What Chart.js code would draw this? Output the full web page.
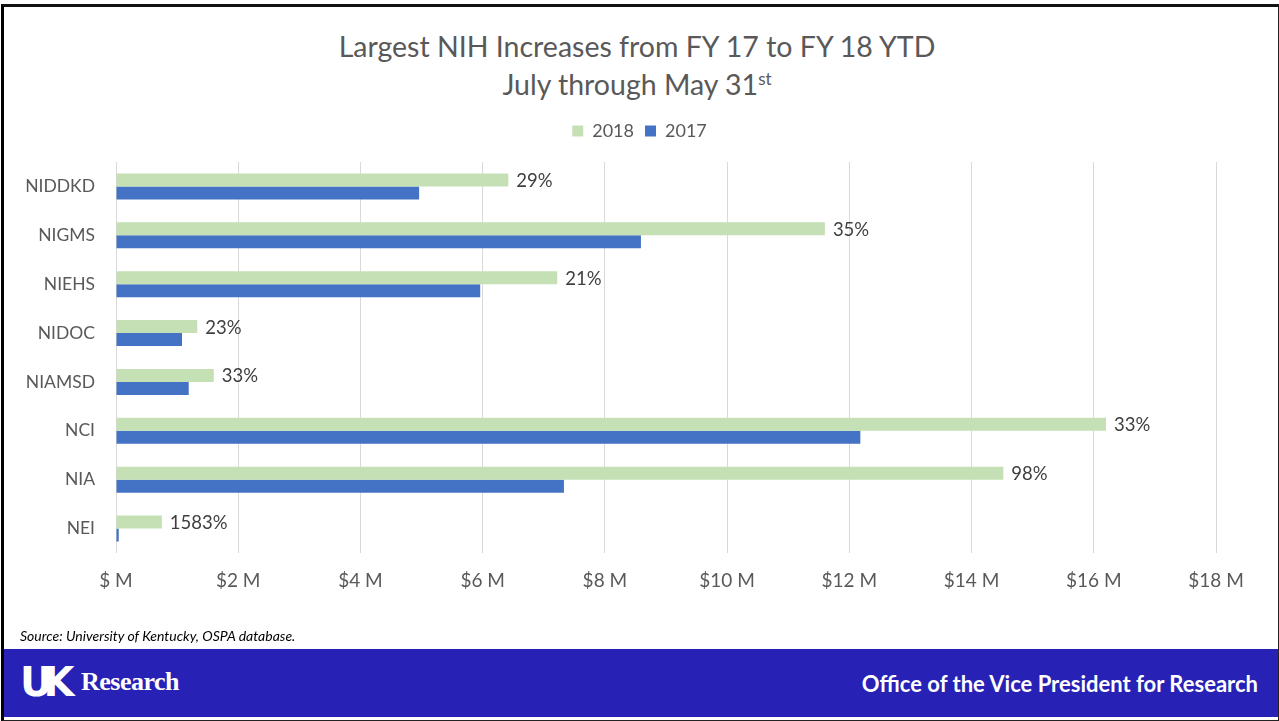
<!DOCTYPE html>
<html>
<head>
<meta charset="utf-8">
<script src="https://cdn.jsdelivr.net/npm/chart.js@4"></script>
<style>
  html, body { margin: 0; padding: 0; background: #fff; }
  body { width: 1279px; height: 721px; position: relative; overflow: hidden; font-family: Lato, "Noto Sans", sans-serif; }
  #frame { position: absolute; left: 1px; top: 4px; width: 1274px; height: 713px; border-left: 3px solid #000; border-top: 3px solid #111; border-right: 1px solid #222; border-bottom: 1px solid #222; }
  #chartWrap { position: absolute; left: 0; top: 0; width: 1279px; height: 721px; }
  #title { position: absolute; left: 0; width: 1274px; top: 27px; text-align: center; color: #595959; font-size: 28.5px; line-height: 38px; }
  #title sup { font-size: 17px; vertical-align: 10px; line-height: 0; }
  #source { position: absolute; left: 20px; top: 627px; font-size: 14px; font-style: italic; color: #000; }
  #footer { position: absolute; left: 4px; top: 649px; width: 1274px; height: 68px; background: #2821B5; color: #fff; }
  #logo { position: absolute; left: 16px; top: 11px; font-family: "DejaVu Sans", sans-serif; font-weight: 900; font-size: 40px; letter-spacing: -9px; line-height: 44px; }
  #logoText { position: absolute; left: 77px; top: 18px; font-family: "Liberation Serif", serif; font-weight: bold; font-size: 26px; letter-spacing: -0.5px; }
  #office { position: absolute; right: 20px; top: 21px; font-weight: bold; font-size: 22px; }
</style>
</head>
<body>
<div id="frame"></div>
<div id="title">Largest NIH Increases from FY 17 to FY 18 YTD<br>July through May 31<sup>st</sup></div>
<div id="chartWrap"><canvas id="nihChart" width="1279" height="721"></canvas></div>
<div id="source">Source: University of Kentucky, OSPA database.</div>
<div id="footer">
  <div id="logo">UK</div>
  <div id="logoText">Research</div>
  <div id="office">Office of the Vice President for Research</div>
</div>
<script>
// institutes, top to bottom
const institutes = ['NIDDKD', 'NIGMS', 'NIEHS', 'NIDOC', 'NIAMSD', 'NCI', 'NIA', 'NEI'];

// funding in $ millions, July through May 31
const fy2018 = [6.42, 11.6, 7.22, 1.33, 1.60, 16.2, 14.52, 0.75];
const fy2017 = [4.96, 8.59, 5.96, 1.08, 1.19, 12.18, 7.33, 0.045];

// increase labels shown at the end of the 2018 bars
const increaseLabels = ['29%', '35%', '21%', '23%', '33%', '33%', '98%', '1583%'];

const xTickLabels = ['$ M', '$2 M', '$4 M', '$6 M', '$8 M', '$10 M', '$12 M', '$14 M', '$16 M', '$18 M'];

const fontFamily = 'Lato, "Noto Sans", sans-serif';

// draws the percentage next to each 2018 bar
const increaseLabelPlugin = {
  id: 'increaseLabels',
  afterDatasetsDraw(chart) {
    const ctx = chart.ctx;
    const meta = chart.getDatasetMeta(0);
    ctx.save();
    ctx.font = '18.5px ' + fontFamily;
    ctx.fillStyle = '#404040';
    ctx.textAlign = 'left';
    ctx.textBaseline = 'middle';
    meta.data.forEach(function(bar, i) {
      ctx.fillText(increaseLabels[i], bar.x + 8, bar.y + 1);
    });
    ctx.restore();
  }
};

// extra room under the legend, and centre it on the whole slide
const legendGapPlugin = {
  id: 'legendGap',
  beforeLayout(chart) {
    const legend = chart.legend;
    if (legend && !legend._gapAdded) {
      const fit = legend.fit.bind(legend);
      legend.fit = function() { fit(); this.height += 12; };
      legend._gapAdded = true;
    }
  },
  afterLayout(chart) {
    const legend = chart.legend;
    if (legend) {
      legend.left += 29;
      legend.right += 29;
    }
  }
};

const chart = new Chart(document.getElementById('nihChart'), {
  type: 'bar',
  data: {
    labels: institutes,
    datasets: [{
      label: '2018',
      data: fy2018,
      backgroundColor: '#C5E0B4',
      categoryPercentage: 0.53,
      barPercentage: 1.0
    }, {
      label: '2017',
      data: fy2017,
      backgroundColor: '#4472C4',
      categoryPercentage: 0.53,
      barPercentage: 1.0
    }]
  },
  options: {
    indexAxis: 'y',
    responsive: false,
    animation: false,
    layout: { padding: { top: 111, left: 5, right: 63, bottom: 128 } },
    plugins: {
      legend: {
        position: 'top',
        labels: {
          boxWidth: 11,
          boxHeight: 11,
          padding: 11,
          color: '#595959',
          font: { family: fontFamily, size: 18 }
        }
      },
      title: { display: false },
      tooltip: { enabled: false }
    },
    scales: {
      x: {
        min: 0,
        max: 18,
        grid: { color: '#D9D9D9', drawTicks: false },
        border: { display: false },
        ticks: {
          stepSize: 2,
          padding: 16,
          color: '#595959',
          font: { family: fontFamily, size: 19 },
          callback: function(value, index) { return xTickLabels[index]; }
        },
        afterFit: function(scale) { scale.height = 40; }
      },
      y: {
        grid: { display: false, drawTicks: false },
        border: { display: false },
        ticks: {
          padding: 21,
          color: '#595959',
          font: { family: fontFamily, size: 17.5 }
        },
        afterFit: function(scale) { scale.width = 111; }
      }
    }
  },
  plugins: [increaseLabelPlugin, legendGapPlugin]
});
</script>
</body>
</html>
